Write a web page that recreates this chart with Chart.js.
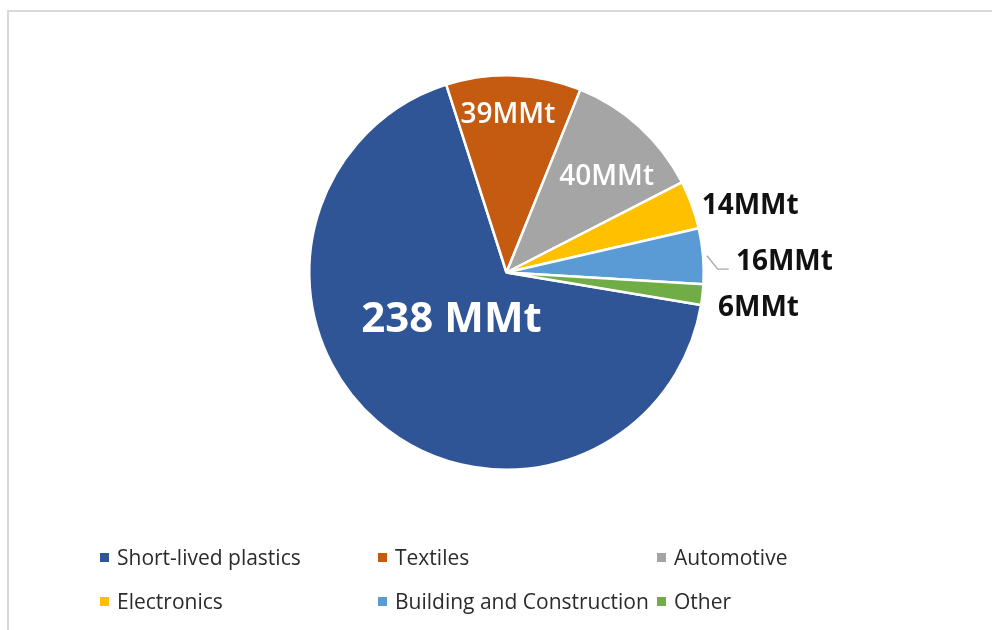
<!DOCTYPE html>
<html>
<head>
<meta charset="utf-8">
<title>Plastic waste by sector</title>
<script src="https://cdn.jsdelivr.net/npm/chart.js@4.4.1/dist/chart.umd.min.js"></script>
<style>
    html, body { margin: 0; padding: 0; background: #fff; }
    #wrap { position: relative; width: 992px; height: 630px; overflow: hidden; }
    #legend { position: absolute; left: 0; top: 0; width: 992px; height: 630px; pointer-events: none; }
    .legend-item {
        position: absolute;
        display: flex;
        align-items: center;
        font-family: "Open Sans", "Noto Sans", sans-serif;
        font-size: 21px;
        color: #2b2b2b;
        line-height: 24px;
        white-space: nowrap;
    }
    .legend-box { width: 9px; height: 9px; margin-right: 8px; }
</style>
</head>
<body>
<div id="wrap">
    <canvas id="pieChart" width="992" height="630"></canvas>
    <div id="legend"></div>
</div>
<script>
// ============================================
// DATA
// ============================================
const categories = ['Short-lived plastics', 'Textiles', 'Automotive', 'Electronics', 'Building and Construction', 'Other'];
const amounts = [238, 39, 40, 14, 16, 6];
const valueLabels = ['238 MMt', '39MMt', '40MMt', '14MMt', '16MMt', '6MMt'];
const sliceColors = ['#2F5597', '#C55A11', '#A5A5A5', '#FFC000', '#5B9BD5', '#70AD47'];

// where each value label sits: angle offset from slice middle (deg), radius factor, style
const labelStyle = [
    { da: 8,    rf: 0.37, color: '#ffffff', font: 'bold 42px "Open Sans"' },
    { da: -1.6, rf: 0.80, color: '#ffffff', font: '600 28px "Open Sans"' },
    { da: 4.1,  rf: 0.70, color: '#ffffff', font: '600 28px "Open Sans"' },
    { da: 4.9,  rf: 1.28, color: '#111111', font: 'bold 28px "Open Sans"' },
    { da: 2.6,  rf: 1.41, color: '#111111', font: 'bold 28px "Open Sans"' },
    { da: 1.5,  rf: 1.29, color: '#111111', font: 'bold 28px "Open Sans"' }
];

// legend grid (3 columns, 2 rows like the excel legend)
const legendCols = [100, 378, 657];
const legendRows = [545, 589];

// ============================================
// PLUGINS - frame, value labels
// ============================================
const framePlugin = {
    id: 'frame',
    beforeDraw(chart) {
        const ctx = chart.ctx;
        ctx.save();
        ctx.strokeStyle = '#d9d9d9';
        ctx.lineWidth = 2;
        ctx.beginPath();
        ctx.moveTo(8, 632);
        ctx.lineTo(8, 11);
        ctx.lineTo(1000, 11);
        ctx.stroke();
        ctx.restore();
    }
};

const valueLabelPlugin = {
    id: 'valueLabels',
    afterDatasetsDraw(chart) {
        const ctx = chart.ctx;
        const arcs = chart.getDatasetMeta(0).data;
        ctx.save();
        arcs.forEach((arc, i) => {
            const p = arc.getProps(['x', 'y', 'startAngle', 'endAngle', 'outerRadius'], true);
            const mid = (p.startAngle + p.endAngle) / 2;
            const st = labelStyle[i];
            const a = mid + st.da * Math.PI / 180;
            const r = p.outerRadius * st.rf;

            // leader line for the building slice (the only one excel drew)
            if (i === 4) {
                const pt = (ang, rr) => [p.x + rr * Math.cos(ang), p.y + rr * Math.sin(ang)];
                const d = Math.PI / 180;
                const a0 = pt(mid, p.outerRadius * 1.02);
                const a1 = pt(mid + 3.85 * d, p.outerRadius * 1.071);
                const a2 = pt(mid + 3.9 * d, p.outerRadius * 1.127);
                ctx.strokeStyle = '#a6a6a6';
                ctx.lineWidth = 1.3;
                ctx.beginPath();
                ctx.moveTo(a0[0], a0[1]);
                ctx.lineTo(a1[0], a1[1]);
                ctx.lineTo(a2[0], a2[1]);
                ctx.stroke();
            }

            ctx.fillStyle = st.color;
            ctx.font = st.font;
            ctx.textAlign = 'center';
            ctx.textBaseline = 'middle';
            ctx.fillText(valueLabels[i], p.x + r * Math.cos(a), p.y + r * Math.sin(a));
        });
        ctx.restore();
    }
};

// ============================================
// CHART
// ============================================
const ctx = document.getElementById('pieChart').getContext('2d');
const pieChart = new Chart(ctx, {
    type: 'pie',
    data: {
        labels: categories,
        datasets: [{
            data: amounts,
            backgroundColor: sliceColors,
            borderColor: '#ffffff',
            borderWidth: 2.5
        }]
    },
    options: {
        responsive: false,
        animation: false,
        rotation: 99.5,          // first slice starts a bit below 3 o'clock
        layout: {
            padding: { left: 21, right: 0, top: 74, bottom: 159 }
        },
        plugins: {
            legend: { display: false },
            tooltip: { enabled: false }
        }
    },
    plugins: [framePlugin, valueLabelPlugin]
});

// ============================================
// LEGEND - built from the chart data
// ============================================
const legendBox = document.getElementById('legend');
categories.forEach((name, i) => {
    const item = document.createElement('div');
    item.className = 'legend-item';
    item.style.left = legendCols[i % 3] + 'px';
    item.style.top = legendRows[Math.floor(i / 3)] + 'px';
    item.innerHTML = `<span class="legend-box" style="background:${sliceColors[i]}"></span><span>${name}</span>`;
    legendBox.appendChild(item);
});
</script>
</body>
</html>
